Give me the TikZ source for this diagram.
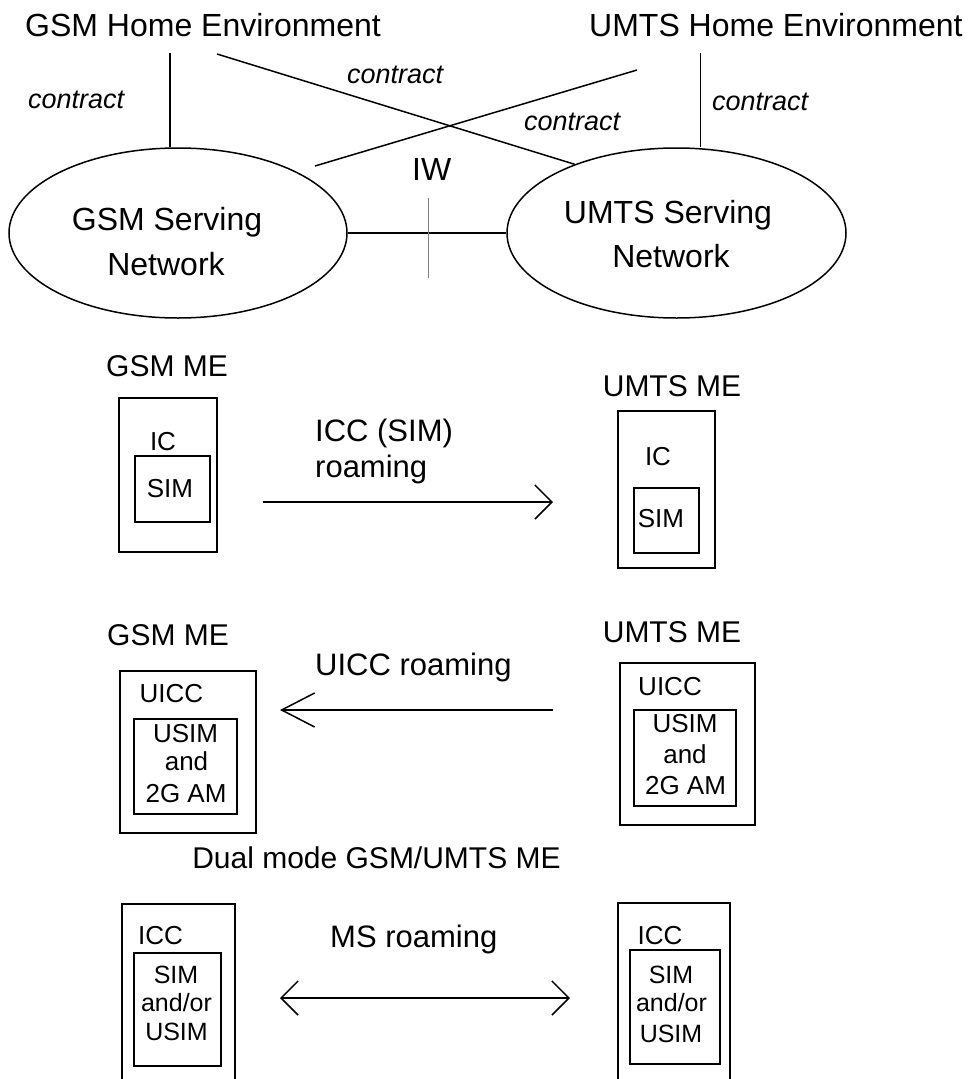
\documentclass[tikz,border=0pt]{standalone}
\usepackage{fontspec}
\setmainfont{Liberation Sans}
\usetikzlibrary{shapes.geometric,arrows.meta}
\begin{document}
\begin{tikzpicture}[x=1pt,y=-1pt,
  txt/.style={inner sep=0pt, anchor=base},
  f32/.style={txt, font=\fontsize{32}{38}\selectfont},
  f31/.style={txt, font=\fontsize{31}{37}\selectfont},
  f30/.style={txt, font=\fontsize{30}{36}\selectfont},
  fctr/.style={txt, anchor=base west, font=\fontsize{27}{32}\selectfont\itshape},
  f26/.style={txt, font=\fontsize{26}{31}\selectfont},
  f25/.style={txt, font=\fontsize{25}{30}\selectfont},
  net/.style={draw, ellipse, line width=1.5pt, minimum height=170pt, inner sep=0pt},
  card/.style={draw, rectangle, line width=1.5pt, inner sep=0pt, anchor=north west},
  link/.style={line width=1.5pt},
  iwline/.style={line width=1pt, draw=gray},
  shorthead/.style={-{Straight Barb[length=17pt,width=34pt]}},
  longhead/.style={-{Straight Barb[length=33pt,width=34pt]}},
  twohead/.style={{Straight Barb[length=17pt,width=34pt]}-{Straight Barb[length=17pt,width=34pt]}}
]
\useasboundingbox (0,0) rectangle (967,1079);
\clip (0,0) rectangle (967,1079);

% ---------- top: networks ----------
\node[f32, anchor=base west] (ghe) at (25,36) {GSM Home Environment};
\node[f32, anchor=base west] (uhe) at (589,36) {UMTS Home Environment};

\node[net, minimum width=338pt] (gsn) at (178,233) {};
\node[net, minimum width=339pt] (usn) at (676.5,233) {};
\node[f32] (gsn1) at (167,230) {GSM Serving};
\node[f32] (gsn2) at (166,275) {Network};
\node[f32] (usn1) at (668,223) {UMTS Serving};
\node[f32] (usn2) at (671,267) {Network};

\coordinate (v1) at (170,53);
\coordinate (v2) at (700.5,53);
\coordinate (x1) at (217,54);
\coordinate (x2a) at (637,70);
\coordinate (x2b) at (315,166);
\coordinate (iwa) at (428,198);
\coordinate (iwb) at (428,278);

\draw[link] (v1) -- (v1 |- gsn.north);
\draw[link] (v2) -- (v2 |- usn.north);
\draw[link] (x1) -- (usn.146);
\draw[link] (x2a) -- (x2b);
\draw[link] (gsn.east) -- (usn.west);
\draw[iwline] (iwa) -- (iwb);

\node[fctr] (c1) at (28,108) {contract};
\node[fctr] (c2) at (347,83) {contract};
\node[fctr] (c3) at (524,130) {contract};
\node[fctr] (c4) at (712,110) {contract};
\node[f32, anchor=base west] (iw) at (412,180) {IW};

% ---------- row 1: ICC (SIM) roaming ----------
\node[f30] (t1l) at (167,376) {GSM ME};
\node[card, minimum width=98pt, minimum height=154pt] (b1lo) at (118,397) {};
\node[card, minimum width=75pt, minimum height=66pt] (b1li) at (134,455) {};
\node[f26] (b1lic) at (163,450) {IC};
\node[f26] (b1lsim) at (170,497) {SIM};

\node[f30] (t1r) at (672,396) {UMTS ME};
\node[card, minimum width=97pt, minimum height=157pt] (b1ro) at (617,410) {};
\node[card, minimum width=65pt, minimum height=65pt] (b1ri) at (633,487) {};
\node[f26] (b1ric) at (658,465) {IC};
\node[f26] (b1rsim) at (661,527) {SIM};

\node[f31, anchor=base west] (r1a) at (315,441) {ICC (SIM)};
\node[f31, anchor=base west] (r1b) at (315,477) {roaming};
\coordinate (a1s) at (263,502);
\coordinate (a1e) at (553,502);
\draw[link, shorthead] (a1s) -- (a1e);

% ---------- row 2: UICC roaming ----------
\node[f30] (t2l) at (168,645) {GSM ME};
\node[card, minimum width=136pt, minimum height=162pt] (b2lo) at (119,670) {};
\node[card, minimum width=103pt, minimum height=95pt] (b2li) at (133,718) {};
\node[f26] (b2luicc) at (171.5,702) {UICC};
\node[f26] (b2l1) at (185.5,742) {USIM};
\node[f26] (b2l2) at (186.5,770) {and};
\node[f26] (b2l3) at (186,802) {2G AM};

\node[f30] (t2r) at (672,642) {UMTS ME};
\node[card, minimum width=135pt, minimum height=162pt] (b2ro) at (619,662) {};
\node[card, minimum width=102pt, minimum height=96pt] (b2ri) at (633,709) {};
\node[f26] (b2ruicc) at (670,695) {UICC};
\node[f26] (b2r1) at (685,732) {USIM};
\node[f26] (b2r2) at (685,763) {and};
\node[f26] (b2r3) at (685.5,794) {2G AM};

\node[f31, anchor=base west] (r2) at (315,675) {UICC roaming};
\coordinate (a2s) at (553,710);
\coordinate (a2e) at (280,710);
\draw[link, longhead] (a2s) -- (a2e);

% ---------- row 3: MS roaming ----------
\node[f30] (t3) at (376.5,868) {Dual mode GSM/UMTS ME};
\node[card, minimum width=113pt, minimum height=200pt] (b3lo) at (121,903) {};
\node[card, minimum width=87pt, minimum height=113pt] (b3li) at (133,952) {};
\node[f26] (b3licc) at (160.5,944) {ICC};
\node[f25] (b3l1) at (176,983) {SIM};
\node[f25] (b3l2) at (176.5,1011) {and/or};
\node[f25] (b3l3) at (176.5,1040) {USIM};

\node[card, minimum width=112pt, minimum height=200pt] (b3ro) at (617,902) {};
\node[card, minimum width=90pt, minimum height=114pt] (b3ri) at (629,949) {};
\node[f26] (b3ricc) at (660,944) {ICC};
\node[f25] (b3r1) at (671,983) {SIM};
\node[f25] (b3r2) at (671.5,1011) {and/or};
\node[f25] (b3r3) at (671,1042) {USIM};

\node[f31, anchor=base west] (r3) at (330,947) {MS roaming};
\coordinate (a3s) at (280,998);
\coordinate (a3e) at (570,998);
\draw[link, twohead] (a3s) -- (a3e);
\end{tikzpicture}
\end{document}
